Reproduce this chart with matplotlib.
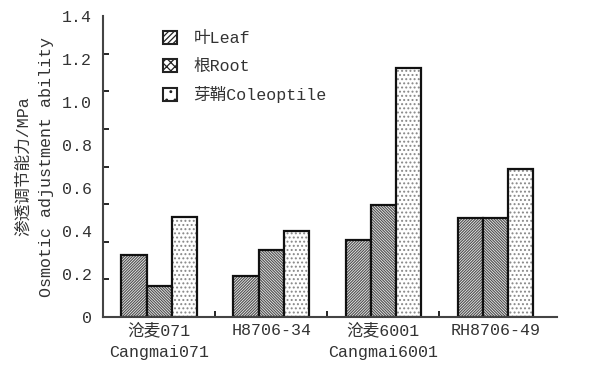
import numpy as np
import matplotlib.pyplot as plt
from matplotlib.patches import Patch

plt.rcParams["font.family"] = ["Liberation Mono", "Noto Sans CJK SC"]
plt.rcParams["hatch.linewidth"] = 0.9

groups = ["沧麦071\nCangmai071", "H8706-34", "沧麦6001\nCangmai6001", "RH8706-49"]
series = ["叶Leaf", "根Root", "芽鞘Coleoptile"]
leaf = [0.29, 0.19, 0.36, 0.46]
root = [0.145, 0.31, 0.52, 0.46]
coleoptile = [0.465, 0.40, 1.16, 0.69]
y_labels = ["0", "0.2", "0.4", "0.6", "0.8", "1.0", "1.2", "1.4"]

hatches = ["/" * 12, "\\" * 12, "...."]
hatch_cols = ["#555555", "#555555", "#888888"]
txt = "#333333"

fig = plt.figure(figsize=(5.89, 3.83), dpi=100)
ax = fig.add_axes([0.175, 0.172, 0.771, 0.786])

x = np.arange(len(groups))
w = 0.225
values = [leaf, root, coleoptile]
for i, vals in enumerate(values):
    pos = x + (i - 1) * w
    # hatch layer in grey, outline drawn on top in black
    ax.bar(pos, vals, width=w, color="white", edgecolor=hatch_cols[i],
           hatch=hatches[i], linewidth=0)
    ax.bar(pos, vals, width=w, facecolor="none", edgecolor="#111111",
           linewidth=1.6)

ax.set_xlim(-0.5, 3.55)
ax.set_ylim(0, 1.4)

ax.set_xticks(x)
ax.set_xticklabels(groups, fontsize=12, color=txt, linespacing=1.5)
ax.set_xticks([0.5, 1.5, 2.5], minor=True)
ax.tick_params(axis="x", which="major", length=0, pad=4)
ax.tick_params(axis="x", which="minor", direction="in", length=4, width=1.2)

ax.set_yticks(np.arange(0, 1.41, 0.2))
ax.set_yticklabels(y_labels, fontsize=12, color=txt)
ax.set_yticks(np.linspace(0, 1.4, 9), minor=True)
ax.tick_params(axis="y", which="major", length=0, pad=8)
ax.tick_params(axis="y", which="minor", direction="in", length=4, width=1.2)

for s in ["top", "right"]:
    ax.spines[s].set_visible(False)
for s in ["left", "bottom"]:
    ax.spines[s].set_linewidth(1.5)
    ax.spines[s].set_color("#444444")

ax.set_ylabel("渗透调节能力/MPa\nOsmotic adjustment ability", fontsize=12,
              color=txt, linespacing=1.6, labelpad=6)

handles = [Patch(facecolor="white", edgecolor="#222222", hatch=h,
                 linewidth=1.5) for h in ["//////", "xxxx", ".."]]
ax.legend(handles, series, loc="upper left", bbox_to_anchor=(0.1, 1.0),
          frameon=False, fontsize=12, labelcolor=txt, handlelength=0.8,
          handleheight=0.8, labelspacing=0.75, handletextpad=1.0)

fig.savefig("out.png", dpi=100)
